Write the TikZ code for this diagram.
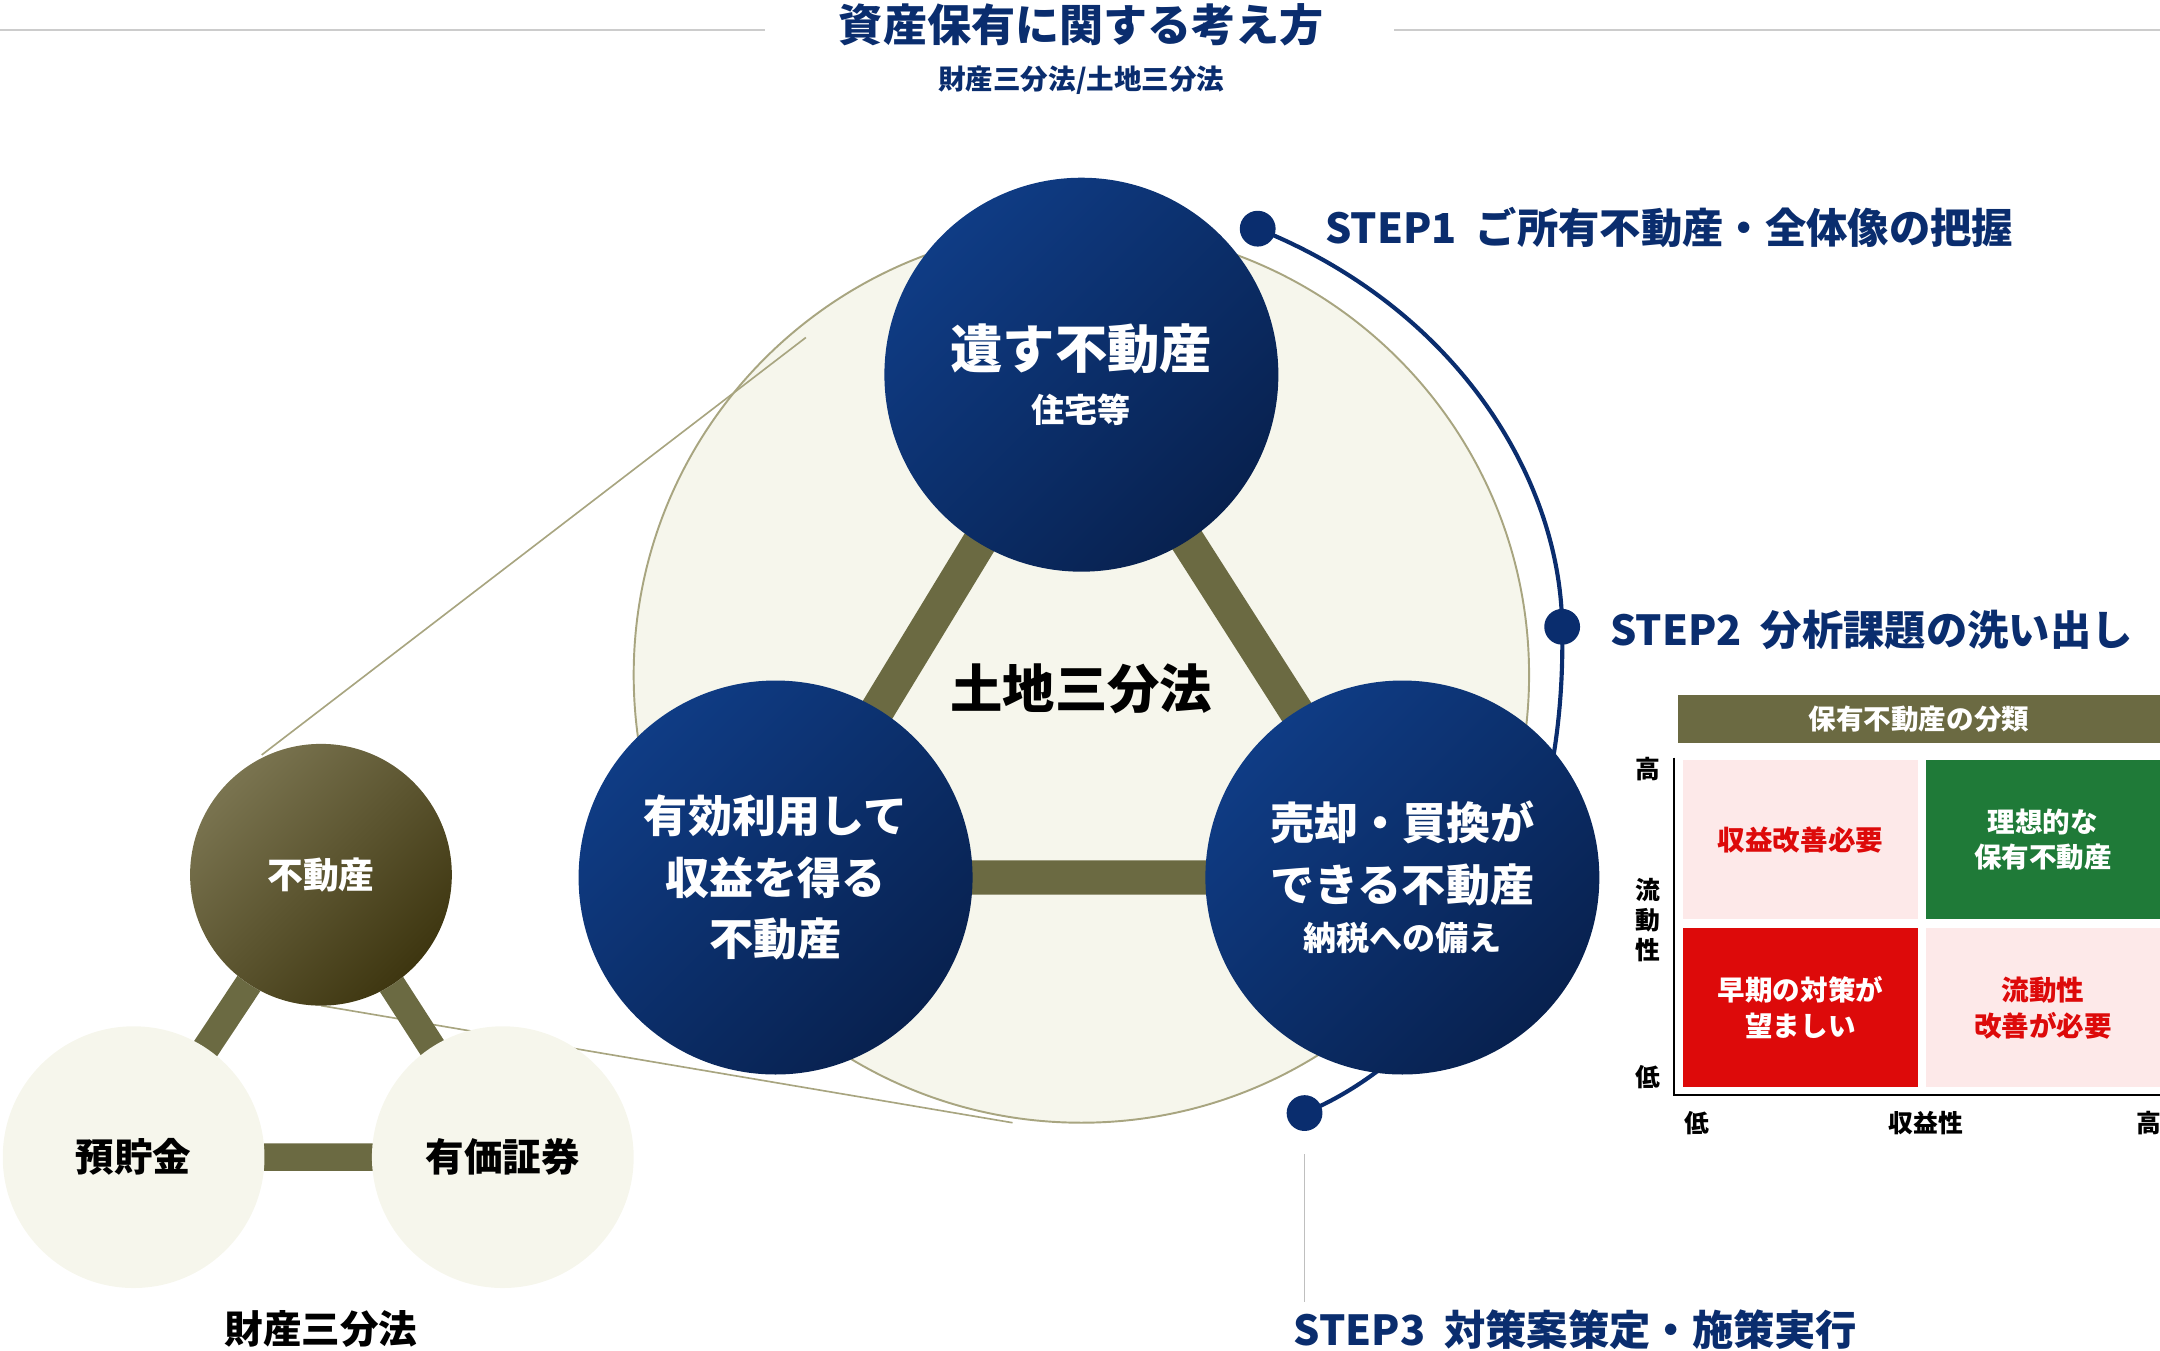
\documentclass[tikz,border=0pt]{standalone}
\usepackage{fontspec}
\setmainfont{Noto Sans CJK JP}
\definecolor{navy}{HTML}{0A2D6E}
\definecolor{navyL}{HTML}{0F3C85}
\definecolor{navyD}{HTML}{08214F}
\definecolor{olive}{HTML}{6B6A42}
\definecolor{oliveL}{HTML}{7A7450}
\definecolor{oliveD}{HTML}{3E3610}
\definecolor{cream}{HTML}{F6F6EC}
\definecolor{rim}{HTML}{A8A580}
\definecolor{pinkc}{HTML}{FDE9E9}
\definecolor{redc}{HTML}{DD0A0A}
\definecolor{greenc}{HTML}{1F7A38}
\newcommand{\fs}[1]{\fontsize{#1pt}{#1pt}\selectfont\bfseries}
\tikzset{
 big/.style={circle,minimum size=143pt,inner sep=0,text=white,align=center,left color=navyL,right color=navyD,shading angle=45},
 bar/.style={line width=12.5pt,olive},
 sm/.style={circle,minimum size=95pt,inner sep=0,fill=cream,align=center},
 dot/.style={circle,fill=navy,minimum size=13pt,inner sep=0},
 steplbl/.style={anchor=west,text=navy,font=\fs{15}},
 cell/.style={minimum width=85pt,minimum height=57.5pt,inner sep=0,align=center,font=\fs{10}},
 ax/.style={font=\fs{9}}
}
\begin{document}
\begin{tikzpicture}[x=0.5pt,y=-0.5pt]
\useasboundingbox (0,0) rectangle (1568,980);
\draw[gray!40,line width=0.6pt] (0,22)--(555,22) (1012,22)--(1568,22);
\node[text=navy,font=\fs{16}] (title) at (785,18) {資産保有に関する考え方};
\node[text=navy,font=\fs{10}] (sub) at (785,58) {財産三分法/土地三分法};
\node[circle,minimum size=325pt,fill=cream,draw=rim,line width=0.7pt] (bg) at (785,490) {};
\draw[rim,line width=0.6pt] (190,548)--(585,245);
\draw[rim,line width=0.6pt] (233,730)--(735,815);
\coordinate (s1) at (913,166);
\coordinate (s2) at (1134,455);
\coordinate (s3) at (947,808);
\draw[navy,line width=1.5pt] (s1) .. controls (1060,225) and (1133,350) .. (s2) .. controls (1138,640) and (1050,765) .. (s3);
\coordinate (ct) at (785,272);
\coordinate (cl) at (563,637);
\coordinate (cr) at (1018,637);
\draw[bar] (ct)--(cl)--(cr)--cycle;
\node[big] (top) at (ct) {\fs{19}遺す不動産\\[6pt]\fs{12}住宅等};
\node[big] (left) at (cl) {\fs{16}有効利用して\\[6pt]\fs{16}収益を得る\\[6pt]\fs{16}不動産};
\node[big] (right) at (cr) {\fs{16}売却・買換が\\[6pt]\fs{16}できる不動産\\[6pt]\fs{12}納税への備え};
\node[font=\fs{19}] (center) at (785,500) {土地三分法};
\node[dot] (d1) at (s1) {};
\node[dot] (d2) at (s2) {};
\node[dot] (d3) at (s3) {};
\node[steplbl] (l1) at (955,165) {STEP1\ \ ご所有不動産・全体像の把握};
\node[steplbl] (l2) at (1162,457) {STEP2\ \ 分析課題の洗い出し};
\node[steplbl] (l3) at (932,965) {STEP3\ \ 対策案策定・施策実行};
\draw[gray!50,line width=0.6pt] (947,838)--(947,945);
\coordinate (st) at (233,635);
\coordinate (sl) at (97,840);
\coordinate (sr) at (365,840);
\draw[bar,line width=10pt] (st)--(sl)--(sr)--cycle;
\node[sm,left color=oliveL,right color=oliveD,shading angle=45,text=white,font=\fs{13}] (fu) at (st) {不動産};
\node[sm,font=\fs{14}] (yo) at (sl) {預貯金};
\node[sm,font=\fs{14}] (yu) at (sr) {有価証券};
\node[font=\fs{14}] (zs) at (233,965) {財産三分法};
\node[fill=olive,text=white,minimum width=175pt,minimum height=17.5pt,inner sep=0,font=\fs{10}] (hd) at (1393,522) {保有不動産の分類};
\draw[black,line width=0.6pt] (1215,550)--(1215,795)--(1568,795);
\node[cell,fill=pinkc,text=redc] (c1) at (1307,609.5) {収益改善必要};
\node[cell,fill=greenc,text=white] (c2) at (1483,609.5) {理想的な\\[3pt]保有不動産};
\node[cell,fill=redc,text=white] (c3) at (1307,731.5) {早期の対策が\\[3pt]望ましい};
\node[cell,fill=pinkc,text=redc] (c4) at (1483,731.5) {流動性\\[3pt]改善が必要};
\node[ax] (a1) at (1196,558) {高};
\node[ax] (a2) at (1196,646) {流};
\node[ax] (a2b) at (1196,668) {動};
\node[ax] (a2c) at (1196,690) {性};
\node[ax] (a3) at (1196,782) {低};
\node[ax] (a4) at (1232,815) {低};
\node[ax] (a5) at (1398,815) {収益性};
\node[ax] (a6) at (1560,815) {高};
\end{tikzpicture}
\end{document}
